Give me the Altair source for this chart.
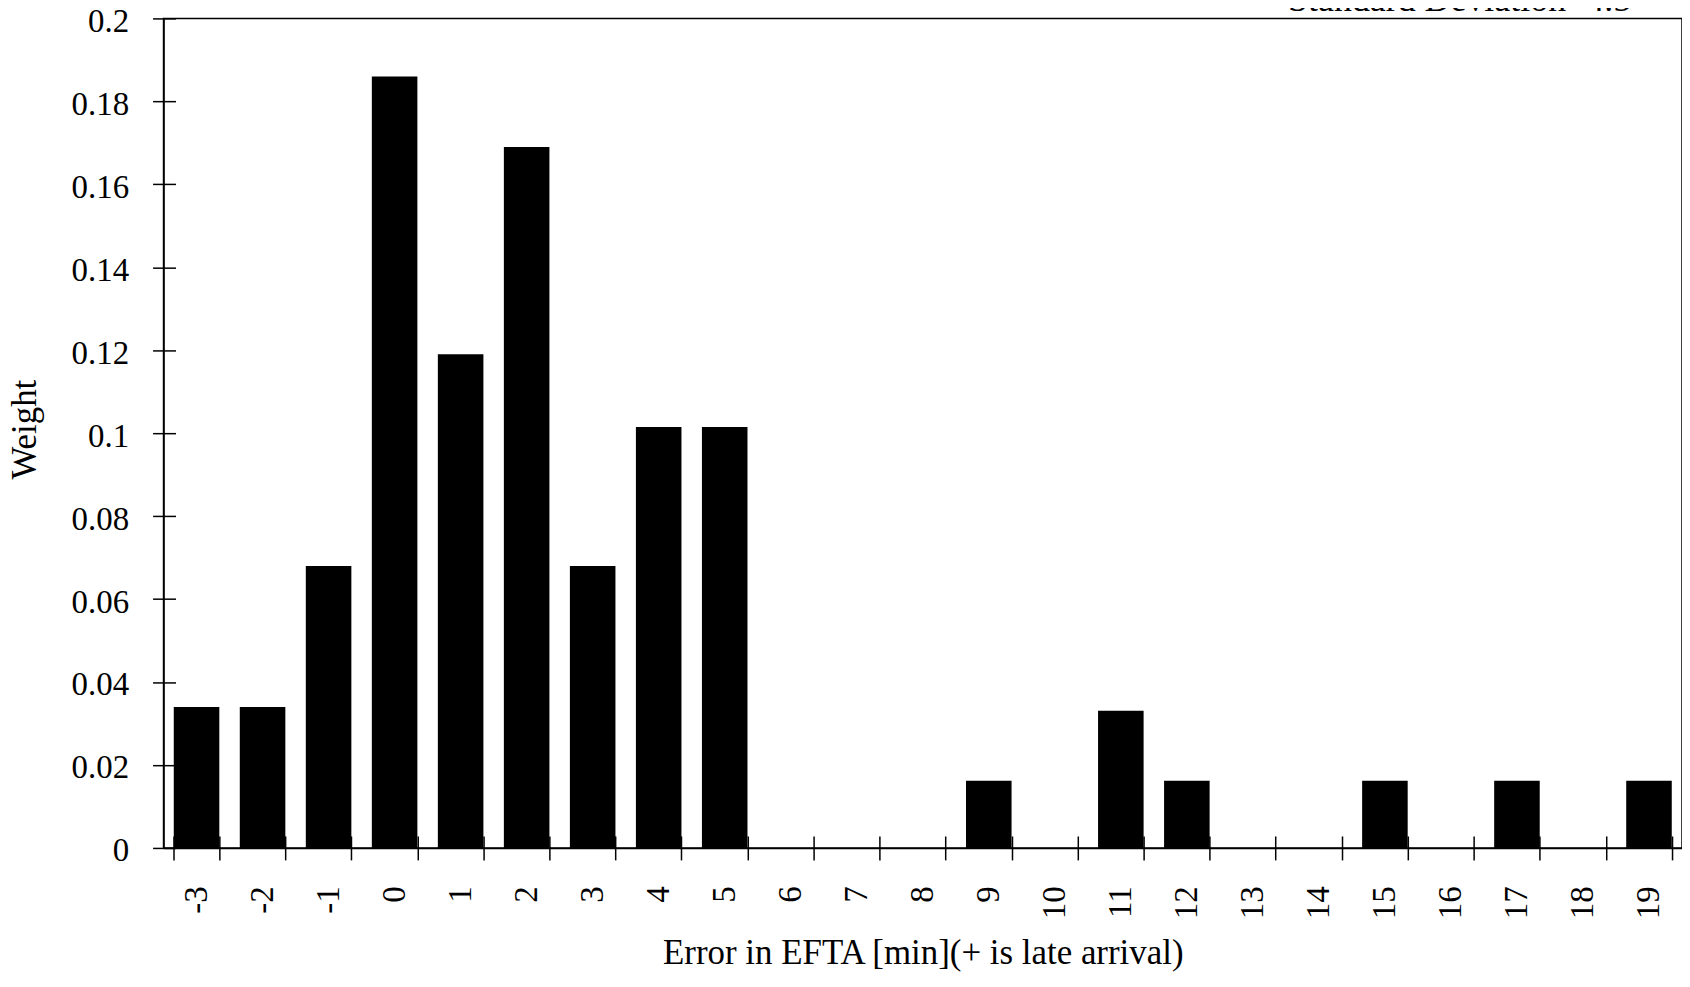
import altair as alt
import pandas as pd

categories = ["-3", "-2", "-1", "0", "1", "2", "3", "4", "5", "6", "7", "8", "9",
              "10", "11", "12", "13", "14", "15", "16", "17", "18", "19"]
weights = [0.034, 0.034, 0.068, 0.186, 0.119, 0.169, 0.068, 0.1015, 0.1015,
           0.0, 0.0, 0.0, 0.0162, 0.0, 0.0331, 0.0162, 0.0, 0.0, 0.0162,
           0.0, 0.0162, 0.0, 0.0162]
y_ticks = [0, 0.02, 0.04, 0.06, 0.08, 0.1, 0.12, 0.14, 0.16, 0.18, 0.2]
annotation = ["Standard Deviation=4.5"]
x_title = "Error in EFTA [min](+ is late arrival)"
y_title = "Weight"

df = pd.DataFrame({"err": categories, "w": weights})

W, H = 1523, 832
FONT = "Liberation Serif"

xscale = alt.Scale(paddingInner=0.31, paddingOuter=0.155)
yscale = alt.Scale(domain=[0, 0.2], nice=False, zero=True)

bars = alt.Chart(df).mark_bar(color="black").encode(
    x=alt.X("err:N", sort=categories, scale=xscale,
            axis=alt.Axis(title=x_title, labelAngle=270, labelFontSize=33,
                          labelFont=FONT, labelColor="black", labelPadding=26,
                          tickSize=12, tickBand="extent", tickColor="black",
                          tickWidth=1.5, domainColor="black", domainWidth=1.5,
                          titleFont=FONT, titleFontSize=35, titleFontWeight="normal",
                          titleColor="black", titleY=116, titleBaseline="alphabetic",
                          labelOverlap=False)),
    y=alt.Y("w:Q", scale=yscale,
            axis=alt.Axis(title=y_title, values=y_ticks, format=".2~f",
                          labelFontSize=33, labelFont=FONT, labelColor="black",
                          labelPadding=24, labelOffset=3, tickSize=11,
                          tickColor="black", tickWidth=1.5, domainColor="black",
                          domainWidth=1.5, grid=False, titleFont=FONT,
                          titleFontSize=35, titleFontWeight="normal",
                          titleColor="black", titleX=-128, titleY=412,
                          titleBaseline="alphabetic", titleAngle=270)),
)

inner = alt.Chart(df).mark_bar(opacity=0).encode(
    x=alt.X("err:N", sort=categories, scale=xscale,
            axis=alt.Axis(orient="top", offset=-H, labels=False, title=None,
                          domain=False, tickSize=12, tickBand="extent",
                          tickColor="black", tickWidth=1.5)),
    y=alt.Y("w:Q", scale=yscale,
            axis=alt.Axis(orient="right", offset=-W, labels=False, title=None,
                          domain=False, values=y_ticks, tickSize=12,
                          tickColor="black", tickWidth=1.5, grid=False)),
)

note = alt.Chart(pd.DataFrame({"t": annotation})).mark_text(
    font=FONT, fontSize=36, color="black", align="right", baseline="alphabetic"
).encode(text="t:N", x=alt.value(1472), y=alt.value(-7))

chart = alt.layer(bars, inner, note).resolve_axis(
    x="independent", y="independent"
).properties(
    width=W, height=H,
    padding={"left": 156, "top": 9, "right": 0, "bottom": 124},
    autosize=alt.AutoSizeParams(type="none"),
    background="white",
).configure_view(stroke="black", strokeWidth=1.5)

chart.save("out.html", embed_options={"renderer": "svg", "actions": False})
